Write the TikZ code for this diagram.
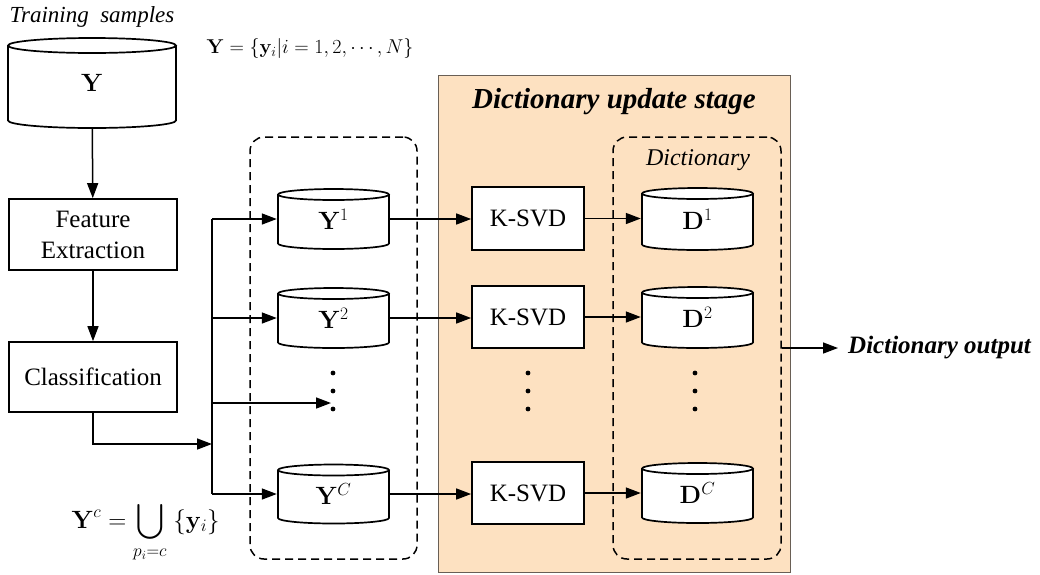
\RequirePackage{fix-cm}
\documentclass[tikz,border=0pt]{standalone}
\usepackage{exscale}
\usepackage[no-math]{fontspec}
\setmainfont{Liberation Serif}
\usetikzlibrary{arrows.meta,calc}

\definecolor{stagefill}{RGB}{253,225,193}
\definecolor{stageline}{RGB}{105,95,85}

\tikzset{
  conn/.style={line width=1.5pt, -{Triangle[length=15pt,width=11pt]}},
  plain/.style={line width=1.5pt},
  txt/.style={font=\fontsize{25}{31}\selectfont},
  procbox/.style={draw, line width=1.7pt, fill=white, inner sep=0pt, align=center, txt},
  % database symbol: width, height, half height of the end ellipses
  cyl/.style n args={3}{inner sep=0pt, minimum width=#1+2pt, minimum height=#2+2pt,
    font=\fontsize{25}{30}\selectfont,
    path picture={
      \fill[white]
        ([xshift=1pt,yshift=-1pt-#3]path picture bounding box.north west)
        -- ([xshift=1pt,yshift=1pt+#3]path picture bounding box.south west)
        arc[start angle=180,end angle=360,x radius=#1/2,y radius=#3]
        -- ([xshift=-1pt,yshift=-1pt-#3]path picture bounding box.north east) -- cycle;
      \draw[line width=1.7pt]
        ([xshift=1pt,yshift=-1pt-#3]path picture bounding box.north west)
        -- ([xshift=1pt,yshift=1pt+#3]path picture bounding box.south west)
        arc[start angle=180,end angle=360,x radius=#1/2,y radius=#3]
        -- ([xshift=-1pt,yshift=-1pt-#3]path picture bounding box.north east);
      \draw[line width=1.7pt, fill=white]
        ([yshift=-1pt-#3]path picture bounding box.north) ellipse[x radius=#1/2, y radius=#3];
    }},
  grp/.style={draw, line width=1.5pt, dash pattern=on 8pt off 5pt, rounded corners=14pt, inner sep=0pt},
  dotmark/.style={circle, fill, inner sep=0pt, minimum size=4.8pt},
}

\begin{document}
\begin{tikzpicture}[x=1pt,y=-1pt]
\useasboundingbox (0,0) rectangle (1040,574);

% stage background and groups
\node[draw=stageline, line width=1pt, fill=stagefill, minimum width=352pt, minimum height=497pt, inner sep=0pt] (stage) at (614,323.5) {};
\node[font=\fontsize{29}{34}\selectfont\bfseries\itshape] (stagetitle) at (614,102) {Dictionary update stage};
\node[grp, minimum width=167pt, minimum height=422pt] (ygroup) at (333.5,348) {};
\node[grp, minimum width=168pt, minimum height=422pt] (dgroup) at (697,348) {};
\node[font=\fontsize{24}{28}\selectfont\itshape] (dictlabel) at (698,160) {Dictionary};

% input data
\node[font=\fontsize{23}{27}\selectfont\itshape, anchor=west] (trainlabel) at (6,17) {Training\enspace samples};
\node[cyl={168pt}{90pt}{7.5pt}] (Y) at (92,83) {$\mathbf{Y}$};
\node[font=\fontsize{20}{24}\selectfont, anchor=west] (Yset) at (203,48) {$\mathbf{Y}=\{\mathbf{y}_i|i=1,2,\cdots,N\}$};

% preprocessing
\node[procbox, minimum width=168pt, minimum height=71pt] (fe) at (93,234.5) {Feature\\Extraction};
\node[procbox, minimum width=168pt, minimum height=70pt] (cl) at (93,377) {Classification};

% class-wise sample sets
\node[cyl={111pt}{60pt}{5.5pt}] (Y1) at (333.5,219) {$\mathbf{Y}^1$};
\node[cyl={111pt}{60pt}{5.5pt}] (Y2) at (333.5,318) {$\mathbf{Y}^2$};
\node[cyl={111pt}{59pt}{5.5pt}] (YC) at (333.5,494) {$\mathbf{Y}^C$};
\node[dotmark] (yd1) at (333,373) {};
\node[dotmark] (yd2) at (333,391) {};
\node[dotmark] (yd3) at (333,409) {};
\node[font=\fontsize{25}{30}\selectfont, anchor=base west] (Ycdef) at (68,528) {$\displaystyle\mathbf{Y}^c=\bigcup_{p_i=c}\;\{\mathbf{y}_i\}$};

% K-SVD blocks
\node[procbox, minimum width=112pt, minimum height=63pt] (k1) at (528,218.5) {K-SVD};
\node[procbox, minimum width=112pt, minimum height=62pt] (k2) at (528,317) {K-SVD};
\node[procbox, minimum width=112pt, minimum height=62pt] (kC) at (528,493) {K-SVD};
\node[dotmark] (kd1) at (528,373) {};
\node[dotmark] (kd2) at (528,391) {};
\node[dotmark] (kd3) at (528,409) {};

% learned dictionaries
\node[cyl={111pt}{62pt}{5.5pt}] (D1) at (697.5,219) {$\mathbf{D}^1$};
\node[cyl={111pt}{61pt}{5.5pt}] (D2) at (697.5,317.5) {$\mathbf{D}^2$};
\node[cyl={111pt}{60pt}{5.5pt}] (DC) at (697.5,493) {$\mathbf{D}^C$};
\node[dotmark] (dd1) at (695,373) {};
\node[dotmark] (dd2) at (695,391) {};
\node[dotmark] (dd3) at (695,409) {};

\node[font=\fontsize{25}{30}\selectfont\bfseries\itshape, anchor=west, inner sep=0pt] (out) at (848,348) {Dictionary output};

% connectors
\coordinate (split) at (212,444);
\coordinate (ydots) at (331,403);
\draw[conn] (Y) -- (fe);
\draw[conn] (fe) -- (cl);
\draw[conn] (cl.south) |- (split);
\draw[plain] (split |- Y1) -- (split |- YC);
\draw[conn] (split |- Y1) -- (Y1.west);
\draw[conn] (split |- Y2) -- (Y2.west);
\draw[conn] (split |- ydots) -- (ydots);
\draw[conn] (split |- YC) -- (YC.west);

\draw[conn] (Y1.east) -- (Y1.east -| k1.west);
\draw[conn] (Y2.east) -- (Y2.east -| k2.west);
\draw[conn] (YC.east) -- (YC.east -| kC.west);
\draw[conn] (k1.east) -- (k1.east -| D1.west);
\draw[conn] (k2.east) -- (k2.east -| D2.west);
\draw[conn] (kC.east) -- (kC.east -| DC.west);

\draw[conn, shorten >=10pt] (dgroup.east) -- (out.west);
\end{tikzpicture}
\end{document}
